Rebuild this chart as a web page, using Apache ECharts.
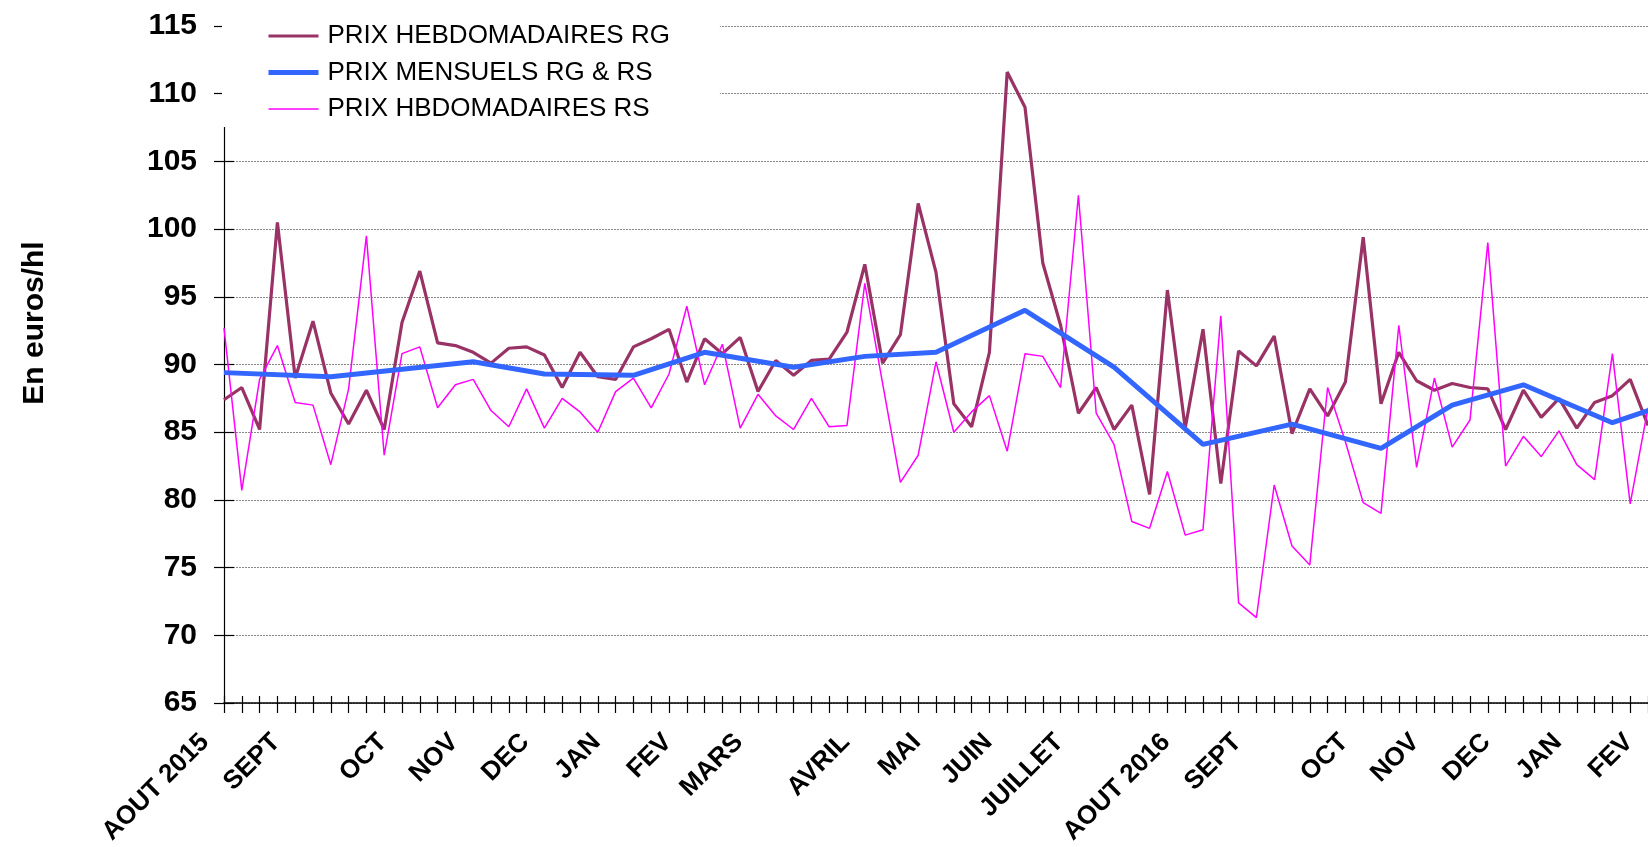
<!DOCTYPE html>
<html>
<head>
<meta charset="utf-8">
<script src="https://cdn.jsdelivr.net/npm/echarts@6/dist/echarts.min.js"></script>
<style>
  html, body { margin: 0; padding: 0; background: #fff; }
  #chart { width: 1648px; height: 847px; }
</style>
</head>
<body>
<div id="chart"></div>
<script>
// Weekly wine prices (euros/hl), August 2015 to February 2017.
const weekCount = 81;

// Month labels and the week index where each one sits
const monthNames = ['AOUT 2015', 'SEPT', 'OCT', 'NOV', 'DEC', 'JAN', 'FEV', 'MARS', 'AVRIL',
  'MAI', 'JUIN', 'JUILLET', 'AOUT 2016', 'SEPT', 'OCT', 'NOV', 'DEC', 'JAN', 'FEV'];
const monthWeeks = [0, 4, 10, 14, 18, 22, 26, 30, 36, 40, 44, 48, 54, 58, 64, 68, 72, 76, 80];

// Weekly prices, RG
const weeklyRG = [
  87.4, 88.3, 85.2, 100.5, 89.0, 93.2, 87.9, 85.6, 88.1, 85.2,
  93.1, 96.9, 91.6, 91.4, 90.9, 90.1, 91.2, 91.3, 90.7, 88.3,
  90.9, 89.1, 88.9, 91.3, 91.9, 92.6, 88.7, 91.9, 90.8, 92.0,
  88.0, 90.3, 89.2, 90.3, 90.4, 92.4, 97.4, 90.1, 92.2, 101.9,
  96.8, 87.1, 85.4, 90.9, 111.6, 109.0, 97.5, 92.9, 86.4, 88.3,
  85.2, 87.0, 80.4, 95.5, 85.3, 92.6, 81.2, 91.0, 89.9, 92.1,
  84.9, 88.2, 86.2, 88.7, 99.4, 87.1, 90.9, 88.8, 88.1, 88.6,
  88.3, 88.2, 85.2, 88.1, 86.1, 87.5, 85.3, 87.2, 87.7, 88.9,
  85.5
];

// Weekly prices, RS
const weeklyRS = [
  92.7, 80.7, 88.9, 91.4, 87.2, 87.0, 82.6, 88.2, 99.5, 83.3,
  90.8, 91.3, 86.8, 88.5, 88.9, 86.6, 85.4, 88.2, 85.3, 87.5,
  86.5, 85.0, 88.0, 89.0, 86.8, 89.3, 94.3, 88.5, 91.5, 85.3,
  87.8, 86.2, 85.2, 87.5, 85.4, 85.5, 96.0, 88.6, 81.3, 83.3,
  90.2, 85.0, 86.5, 87.7, 83.6, 90.8, 90.6, 88.3, 102.5, 86.4,
  84.1, 78.4, 77.9, 82.1, 77.4, 77.8, 93.6, 72.4, 71.3, 81.1,
  76.6, 75.2, 88.3, 84.3, 79.8, 79.0, 92.9, 82.4, 89.0, 83.9,
  85.9, 99.0, 82.5, 84.7, 83.2, 85.1, 82.6, 81.5, 90.8, 79.7,
  86.8
];

// Monthly prices, RG & RS, and the week each one is plotted at
const monthlyWeeks = [0, 6, 14, 18, 23, 27, 32, 36, 40, 45, 50, 55, 60, 65, 69, 73, 78, 80];
const monthlyPrice = [89.4, 89.1, 90.2, 89.3, 89.2, 90.9, 89.8, 90.6, 90.9, 94.0,
  89.8, 84.1, 85.6, 83.8, 87.0, 88.5, 85.7, 86.6];

// Y axis range
const yMin = 65, yMax = 115, yStep = 5;

const weeks = Array.from({ length: weekCount }, (_, i) => 'S' + i);
const labelAt = {};
monthWeeks.forEach((w, k) => { labelAt[w] = monthNames[k]; });
const monthlyData = monthlyWeeks.map((w, k) => [w, monthlyPrice[k]]);

const FONT = '"Liberation Sans", Arial, sans-serif';
const COLOR_RG = '#993366', COLOR_M = '#3366ff', COLOR_RS = '#ff00ff';
const WIDTH_RG = 3.2, WIDTH_M = 5, WIDTH_RS = 1.5;

const chart = echarts.init(document.getElementById('chart'), null, { renderer: 'canvas' });

chart.setOption({
  animation: false,
  backgroundColor: '#ffffff',
  grid: { left: 224, right: 0, top: 26, bottom: 144, containLabel: false, outerBoundsMode: 'none' },
  legend: {
    orient: 'vertical',
    left: 222,
    top: 0,
    padding: [23, 50, 5, 44],
    backgroundColor: '#ffffff',
    itemWidth: 50,
    itemHeight: 26,
    itemGap: 10.5,
    itemStyle: { opacity: 0 },
    textStyle: { fontFamily: FONT, fontSize: 26, color: '#000', padding: [0, 0, 0, 4] },
    data: [
      { name: 'PRIX HEBDOMADAIRES RG', lineStyle: { color: COLOR_RG, width: WIDTH_RG } },
      { name: 'PRIX MENSUELS RG & RS', lineStyle: { color: COLOR_M, width: WIDTH_M } },
      { name: 'PRIX HBDOMADAIRES RS', lineStyle: { color: COLOR_RS, width: WIDTH_RS } }
    ]
  },
  xAxis: [
    {
      type: 'category',
      data: weeks,
      boundaryGap: false,
      axisLine: { lineStyle: { color: '#000', width: 1.5 } },
      axisTick: { show: true, interval: 0, length: 10, lineStyle: { color: '#000', width: 1.2 } },
      axisLabel: {
        interval: 0,
        rotate: 45,
        margin: 16,
        padding: [0, 27, 0, 0],
        fontFamily: FONT,
        fontWeight: 'bold',
        fontSize: 26,
        color: '#000',
        formatter: (v, i) => labelAt[i] || ''
      },
      splitLine: { show: false }
    },
    {
      type: 'category',
      data: weeks,
      position: 'bottom',
      boundaryGap: false,
      axisLine: { show: false },
      axisTick: { show: true, inside: true, interval: 0, length: 7, lineStyle: { color: '#000', width: 1.2 } },
      axisLabel: { show: false },
      splitLine: { show: false }
    }
  ],
  yAxis: [
    {
      type: 'value',
      min: yMin,
      max: yMax,
      interval: yStep,
      axisLine: { show: true, lineStyle: { color: '#000', width: 1.2 } },
      axisTick: { show: true, length: 10, lineStyle: { color: '#000', width: 1.2 } },
      axisLabel: {
        margin: 27,
        fontFamily: FONT,
        fontWeight: 'bold',
        fontSize: 30,
        color: '#000'
      },
      splitLine: { show: true, lineStyle: { color: '#888', type: [2, 1], width: 1 } }
    },
    {
      type: 'value',
      min: yMin,
      max: yMax,
      interval: yStep,
      position: 'left',
      axisLine: { show: false },
      axisTick: { show: true, inside: true, length: 10, lineStyle: { color: '#000', width: 1.2 } },
      axisLabel: { show: false },
      splitLine: { show: false }
    }
  ],
  graphic: [
    {
      type: 'text',
      x: 35,
      y: 323,
      rotation: Math.PI / 2,
      style: {
        text: 'En euros/hl',
        font: 'bold 30px ' + FONT,
        fill: '#000',
        align: 'center',
        verticalAlign: 'middle'
      }
    }
  ],
  series: [
    {
      name: 'PRIX HEBDOMADAIRES RG',
      type: 'line',
      data: weeklyRG,
      symbol: 'none',
      lineStyle: { color: COLOR_RG, width: WIDTH_RG },
      itemStyle: { color: COLOR_RG },
      z: 2
    },
    {
      name: 'PRIX HBDOMADAIRES RS',
      type: 'line',
      data: weeklyRS,
      symbol: 'none',
      lineStyle: { color: COLOR_RS, width: WIDTH_RS },
      itemStyle: { color: COLOR_RS },
      z: 3
    },
    {
      name: 'PRIX MENSUELS RG & RS',
      type: 'line',
      data: monthlyData,
      symbol: 'none',
      lineStyle: { color: COLOR_M, width: WIDTH_M },
      itemStyle: { color: COLOR_M },
      z: 4
    }
  ]
});
</script>
</body>
</html>
